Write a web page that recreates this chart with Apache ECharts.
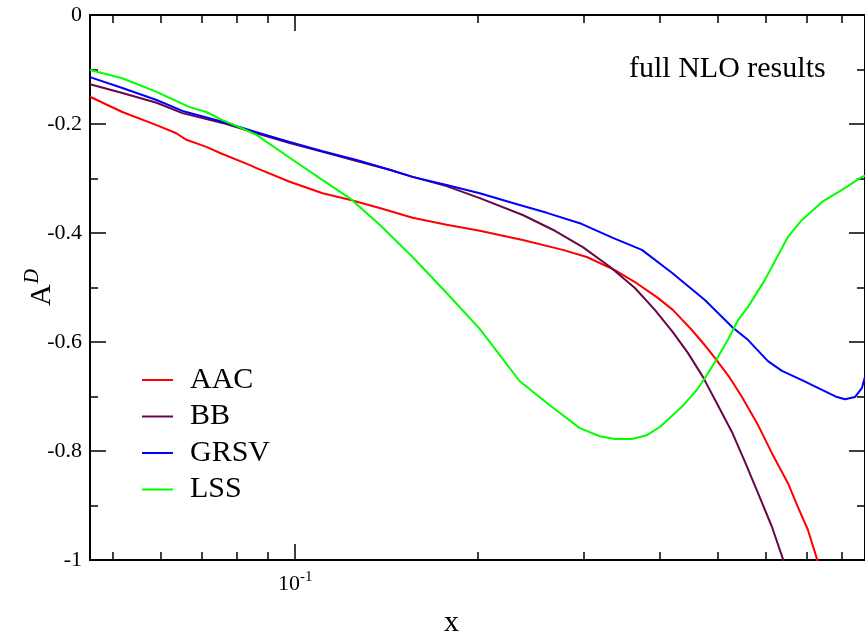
<!DOCTYPE html>
<html>
<head>
<meta charset="utf-8">
<script src="https://cdn.jsdelivr.net/npm/echarts@6/dist/echarts.min.js"></script>
<style>html,body{margin:0;padding:0;background:#fff;}#c{width:865px;height:633px;}</style>
</head>
<body>
<div id="c"></div>
<script>
const seriesNames = ['AAC', 'BB', 'GRSV', 'LSS'];
const AAC = [[0.0458,-0.150],[0.0518,-0.178],[0.0590,-0.202],[0.0636,-0.217],[0.0661,-0.229],[0.0713,-0.242],[0.0758,-0.255],[0.0840,-0.275],[0.0863,-0.281],[0.0979,-0.306],[0.111,-0.327],[0.123,-0.339],[0.1379,-0.354],[0.1563,-0.372],[0.1779,-0.385],[0.2018,-0.396],[0.2377,-0.413],[0.2768,-0.431],[0.3033,-0.444],[0.3375,-0.468],[0.3642,-0.490],[0.3974,-0.519],[0.4207,-0.541],[0.4523,-0.578],[0.4753,-0.606],[0.4937,-0.629],[0.5228,-0.666],[0.5473,-0.701],[0.5816,-0.752],[0.6134,-0.804],[0.6520,-0.859],[0.6773,-0.903],[0.7036,-0.945],[0.7281,-0.998],[0.735,-1.02]];
const BB = [[0.0458,-0.127],[0.0518,-0.143],[0.0590,-0.161],[0.0651,-0.180],[0.0758,-0.198],[0.0863,-0.217],[0.0979,-0.235],[0.111,-0.251],[0.1263,-0.268],[0.1432,-0.284],[0.1563,-0.297],[0.1779,-0.314],[0.2018,-0.336],[0.2377,-0.367],[0.2665,-0.394],[0.2987,-0.426],[0.3311,-0.462],[0.3642,-0.501],[0.3929,-0.541],[0.4207,-0.582],[0.4455,-0.620],[0.4717,-0.664],[0.4994,-0.716],[0.5268,-0.765],[0.5536,-0.820],[0.5816,-0.877],[0.6134,-0.939],[0.6396,-0.998],[0.645,-1.02]];
const GRSV = [[0.0458,-0.114],[0.0518,-0.134],[0.0590,-0.156],[0.0651,-0.176],[0.0758,-0.196],[0.0863,-0.215],[0.0979,-0.233],[0.111,-0.250],[0.1263,-0.266],[0.1432,-0.284],[0.1563,-0.297],[0.1779,-0.312],[0.2018,-0.327],[0.2288,-0.345],[0.2605,-0.363],[0.2953,-0.382],[0.3349,-0.409],[0.3740,-0.431],[0.4192,-0.473],[0.4753,-0.523],[0.5288,-0.574],[0.5598,-0.596],[0.6042,-0.635],[0.6372,-0.653],[0.6877,-0.670],[0.7421,-0.688],[0.7857,-0.701],[0.8100,-0.705],[0.8414,-0.701],[0.8641,-0.684],[0.8741,-0.664]];
const LSS = [[0.0458,-0.101],[0.0518,-0.116],[0.0590,-0.141],[0.0669,-0.169],[0.0713,-0.178],[0.0758,-0.193],[0.0809,-0.206],[0.0863,-0.220],[0.0979,-0.262],[0.111,-0.303],[0.123,-0.336],[0.1379,-0.385],[0.1563,-0.444],[0.1779,-0.510],[0.2018,-0.576],[0.2350,-0.672],[0.2634,-0.716],[0.2953,-0.758],[0.3187,-0.773],[0.3375,-0.778],[0.3600,-0.778],[0.3811,-0.771],[0.4005,-0.756],[0.4354,-0.719],[0.4610,-0.688],[0.4753,-0.666],[0.4937,-0.637],[0.5188,-0.596],[0.5390,-0.560],[0.5598,-0.536],[0.5973,-0.486],[0.6520,-0.407],[0.6877,-0.376],[0.7421,-0.343],[0.8008,-0.321],[0.8641,-0.297],[0.8741,-0.295]];
const xMinorTicks = [0.05,0.06,0.07,0.08,0.09,0.2,0.3,0.4,0.5,0.6,0.7,0.8];
const xMajorTicks = [0.1];
const xLabelValues = [0.1];
const seriesColors = ['#ff0000', '#670748', '#0000ff', '#00ff00'];

const FONT = '"Liberation Serif", "Times New Roman", serif';
const X_MIN = 0.0458, X_MAX = 0.8741;

function xAx(position, ticks, len, withLabel) {
  return {
    type: 'log', logBase: 10, position: position, min: X_MIN, max: X_MAX,
    axisLine: {show: true, onZero: false, lineStyle: {color: '#000', width: 2}},
    axisTick: {show: true, inside: true, length: len, customValues: ticks, lineStyle: {color: '#000', width: 1.5}},
    axisLabel: withLabel ? {
      show: true, customValues: xLabelValues, margin: 10,
      formatter: function () { return '{b|10}{s|-1}'; },
      rich: {
        b: {fontSize: 22, fontFamily: FONT, color: '#000', verticalAlign: 'bottom', lineHeight: 24},
        s: {fontSize: 15, fontFamily: FONT, color: '#000', verticalAlign: 'bottom', padding: [0, 0, 10, 0]}
      }
    } : {show: false},
    splitLine: {show: false},
    minorTick: {show: false}
  };
}
function yAx(position, withLabel) {
  return {
    type: 'value', position: position, min: -1, max: 0, interval: 0.2,
    axisLine: {show: true, onZero: false, lineStyle: {color: '#000', width: 2}},
    axisTick: {show: true, inside: true, length: 16, lineStyle: {color: '#000', width: 1.5}},
    minorTick: {show: true, splitNumber: 2, length: 8, lineStyle: {color: '#000', width: 1.5}},
    axisLabel: withLabel ? {show: true, fontSize: 22, fontFamily: FONT, color: '#000', margin: 8} : {show: false},
    splitLine: {show: false},
    name: withLabel ? '{a|A}{d|D}' : '',
    nameLocation: 'middle', nameRotate: 90, nameGap: 33, nameMoveOverlap: false,
    nameTextStyle: {
      rich: {
        a: {fontSize: 30, fontFamily: FONT, color: '#000', verticalAlign: 'bottom'},
        d: {fontSize: 20, fontFamily: FONT, fontStyle: 'italic', color: '#000', verticalAlign: 'bottom', padding: [0, 0, 14, 1]}
      }
    }
  };
}

const xAxes = [xAx('bottom', xMinorTicks, 8, false), xAx('bottom', xMajorTicks, 16, true), xAx('top', xMinorTicks, 8, false), xAx('top', xMajorTicks, 16, false)];
xAxes[1].name = 'x';
xAxes[1].nameLocation = 'middle';
xAxes[1].nameGap = 48;
xAxes[1].nameTextStyle = {fontSize: 30, fontFamily: FONT, color: '#000', padding: [0, 52, 0, 0]};

const dataSets = [AAC, BB, GRSV, LSS];
const chart = echarts.init(document.getElementById('c'), null, {renderer: 'canvas'});
chart.setOption({
  animation: false,
  backgroundColor: '#fff',
  grid: {left: 90, right: 0, top: 15, bottom: 73, containLabel: false, outerBoundsMode: 'none'},
  xAxis: xAxes,
  yAxis: [yAx('left', true), yAx('right', false)],
  legend: {
    orient: 'vertical', left: 137, top: 360, itemWidth: 31, itemHeight: 2, itemGap: 6.5, icon: 'rect',
    data: seriesNames,
    textStyle: {fontSize: 30, fontFamily: FONT, color: '#000', lineHeight: 30, padding: [0, 0, 0, 12]}
  },
  graphic: [{
    type: 'text', left: 629, top: 54,
    style: {text: 'full NLO results', font: '30px ' + FONT, fill: '#000'}
  }],
  series: dataSets.map(function (d, i) {
    return {
      name: seriesNames[i], type: 'line', data: d, xAxisIndex: 0, yAxisIndex: 0,
      showSymbol: false, symbol: 'none', clip: true,
      lineStyle: {color: seriesColors[i], width: 2}, itemStyle: {color: seriesColors[i]}
    };
  })
});
</script>
</body>
</html>
